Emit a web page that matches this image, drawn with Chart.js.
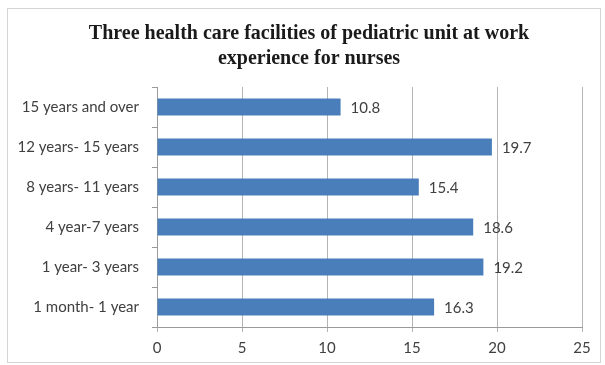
<!DOCTYPE html>
<html>
<head>
<meta charset="utf-8">
<script src="https://cdn.jsdelivr.net/npm/chart.js@4"></script>
<style>
  body { margin: 0; background: #fff; }
  #wrap { position: relative; width: 605px; height: 365px; }
  #frame { position: absolute; left: 7px; top: 8px; width: 592px; height: 353px; border: 1px solid #d4d4d4; pointer-events: none; }
</style>
</head>
<body>
<div id="wrap">
  <canvas id="chart" width="605" height="365"></canvas>
  <div id="frame"></div>
</div>
<script>
const categories = ['15 years and over', '12 years- 15 years', '8 years- 11 years', '4 year-7 years', '1 year- 3 years', '1 month- 1 year'];
const values = [10.8, 19.7, 15.4, 18.6, 19.2, 16.3];
const xTicks = [0, 5, 10, 15, 20, 25];
const titleLines = ['Three health care facilities of pediatric unit at work', 'experience for nurses'];

// title drawn by hand so it can sit where the original has it
const chartTitle = {
    id: 'chartTitle',
    afterDraw(chart) {
        const ctx = chart.ctx;
        ctx.save();
        ctx.font = 'bold 20px "Liberation Serif"';
        ctx.fillStyle = '#1a1a1a';
        ctx.textAlign = 'center';
        ctx.textBaseline = 'middle';
        titleLines.forEach((line, i) => ctx.fillText(line, 309, 34 + i * 25));
        ctx.restore();
    }
};

// value labels at the end of each bar
const barLabels = {
    id: 'barLabels',
    afterDatasetsDraw(chart) {
        const ctx = chart.ctx;
        const meta = chart.getDatasetMeta(0);
        ctx.save();
        ctx.font = '15px Lato';
        ctx.fillStyle = '#404040';
        ctx.textBaseline = 'middle';
        meta.data.forEach((bar, i) => {
            ctx.fillText(values[i].toFixed(1), bar.x + 10, bar.y + 1);
        });
        ctx.restore();
    }
};

new Chart(document.getElementById('chart'), {
    type: 'bar',
    data: {
        labels: categories,
        datasets: [{
            data: values,
            backgroundColor: '#4a7ebb',
            borderWidth: 0,
            categoryPercentage: 1,
            barPercentage: 0.42
        }]
    },
    options: {
        indexAxis: 'y',
        responsive: false,
        animation: false,
        layout: { padding: { top: 87, right: 23, left: 0, bottom: 0 } },
        plugins: {
            legend: { display: false },
            tooltip: { enabled: false },
            title: { display: false }
        },
        scales: {
            x: {
                min: 0,
                max: 25,
                afterBuildTicks: (scale) => { scale.ticks = xTicks.map(v => ({ value: v })); },
                afterFit: (scale) => { scale.height = 38; },
                grid: { color: '#b4b4b4', tickLength: 5, drawTicks: true },
                border: { color: '#9a9a9a' },
                ticks: { color: '#404040', font: { family: 'Lato', size: 15 }, padding: 7 }
            },
            y: {
                afterFit: (scale) => { scale.width = 157; },
                grid: { drawOnChartArea: false, tickLength: 5, color: '#9a9a9a', offset: true },
                border: { color: '#9a9a9a' },
                ticks: { color: '#404040', font: { family: 'Lato', size: 15 }, padding: 13 }
            }
        }
    },
    plugins: [chartTitle, barLabels]
});
</script>
</body>
</html>
